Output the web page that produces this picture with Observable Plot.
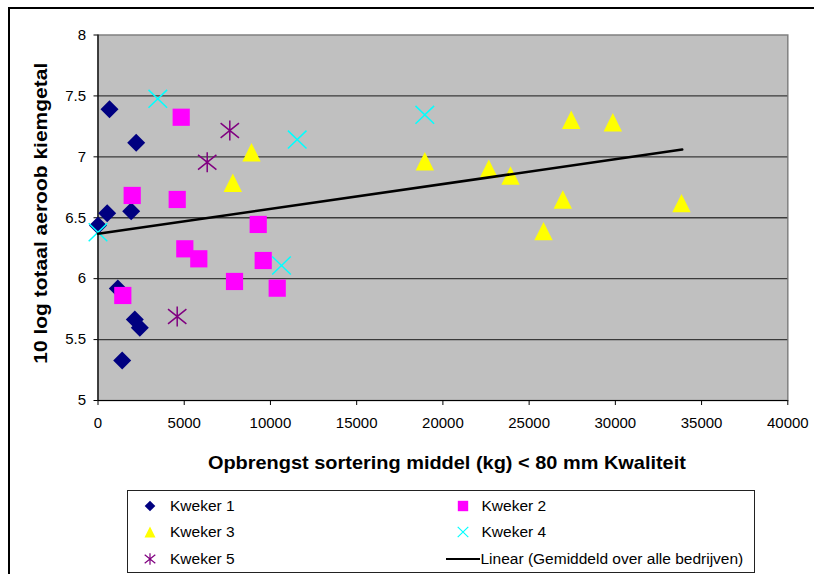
<!DOCTYPE html>
<html>
<head>
<meta charset="utf-8">
<script src="https://cdn.jsdelivr.net/npm/d3@7"></script>
<script src="https://cdn.jsdelivr.net/npm/@observablehq/plot@0.6"></script>
<style>
html,body{margin:0;padding:0;background:#fff;overflow:hidden;width:814px;height:574px}
#wrap{position:relative;width:814px;height:574px;font-family:Arial,"Liberation Sans",sans-serif;overflow:hidden}
#frame{position:absolute;left:8px;top:7px;width:900px;height:700px;border:2px solid #000;box-sizing:border-box}
#chart{position:absolute;left:0;top:0}
#legend{position:absolute;left:127px;top:490px;width:628px;height:83px;border:1.5px solid #222;background:#fff;box-sizing:border-box}
.item{position:absolute;height:20px;line-height:20px;font-size:15.5px;color:#000;white-space:nowrap}
.sym{position:absolute;overflow:visible}
</style>
</head>
<body>
<div id="wrap">
  <div id="frame"></div>
  <div id="chart"></div>
  <div id="legend"></div>
</div>
<script>
// ---- data (x = kg, y = 10log kiemgetal) ----
const kweker1 = [[667,7.39],[2215,7.115],[534,6.537],[1925,6.554],[0,6.436],[1148,5.92],[2134,5.665],[2424,5.597],[1403,5.328]];
const kweker2 = [[4825,7.325],[1983,6.683],[4593,6.65],[9290,6.445],[5034,6.245],[5845,6.163],[9580,6.149],[7916,5.977],[10392,5.922],[1438,5.862]];
const kweker3 = [[8902,7.038],[7817,6.787],[18951,6.964],[22662,6.902],[23921,6.847],[25835,6.39],[26954,6.65],[27441,7.304],[29853,7.284],[33837,6.62]];
const kweker4 = [[3468,7.476],[11552,7.142],[18951,7.345],[10641,6.108],[0,6.381]];
const kweker5 = [[7643,7.216],[6333,6.956],[4593,5.689]];
const trend = [[0,6.368],[33878,7.06]];
const seriesNames = ["Kweker 1","Kweker 2","Kweker 3","Kweker 4","Kweker 5"];
const trendName = "Linear (Gemiddeld over alle bedrijven)";
const xTicks = [0,5000,10000,15000,20000,25000,30000,35000,40000];
const yTicks = [5,5.5,6,6.5,7,7.5,8];
const xLabel = "Opbrengst sortering middel (kg) < 80 mm Kwaliteit";
const yLabel = "10 log totaal aeroob kiemgetal";

// ---- symbols ----
const R = s => Math.sqrt(s / Math.PI);
const symDiamond = {draw(c, s){const r=R(s); c.moveTo(0,-r); c.lineTo(r,0); c.lineTo(0,r); c.lineTo(-r,0); c.closePath();}};
const symSquare = {draw(c, s){const r=R(s); c.moveTo(-r,-r); c.lineTo(r,-r); c.lineTo(r,r); c.lineTo(-r,r); c.closePath();}};
const symTriangle = {draw(c, s){const r=R(s); c.moveTo(0,-r); c.lineTo(r,r); c.lineTo(-r,r); c.closePath();}};
const symTimes = {draw(c, s){const r=R(s); c.moveTo(-r,-r*0.96); c.lineTo(r,r*0.96); c.moveTo(r,-r*0.96); c.lineTo(-r,r*0.96);}};
const symAster = {draw(c, s){const r=R(s); c.moveTo(-r,-r*0.8); c.lineTo(r,r*0.8); c.moveTo(r,-r*0.8); c.lineTo(-r,r*0.8); c.moveTo(0,-r*1.08); c.lineTo(0,r*1.08);}};

const styles = [
  {symbol: symDiamond, r: 9, fill: "#000080", stroke: "none"},
  {symbol: symSquare, r: 8.6, fill: "#FF00FF", stroke: "none"},
  {symbol: symTriangle, r: 9.2, fill: "#FFFF00", stroke: "none"},
  {symbol: symTimes, r: 9.3, fill: "none", stroke: "#00FFFF", strokeWidth: 1.5},
  {symbol: symAster, r: 9.2, fill: "none", stroke: "#800080", strokeWidth: 1.5}
];
const seriesData = [kweker1, kweker2, kweker3, kweker4, kweker5];

const chart = Plot.plot({
  width: 814,
  height: 486,
  marginLeft: 97.5,
  marginRight: 26.7,
  marginTop: 34.5,
  marginBottom: 86,
  style: {background: "transparent", fontFamily: "Arial, 'Liberation Sans', sans-serif", fontSize: "15px", color: "#000", overflow: "visible"},
  x: {domain: [0, 40000], ticks: xTicks, tickFormat: d => String(d)},
  y: {domain: [5, 8], ticks: yTicks, tickFormat: d => String(d)},
  marks: [
    Plot.frame({fill: "#C0C0C0", stroke: "#808080", strokeWidth: 1.5}),
    Plot.ruleY(yTicks.slice(1, -1), {stroke: "#3a3a3a", strokeWidth: 1.3}),
    Plot.ruleX([0], {stroke: "#000", strokeWidth: 1.2}),
    Plot.ruleY([5], {stroke: "#000", strokeWidth: 1.2}),
    Plot.axisY({ticks: yTicks, tickSize: 4, tickPadding: 8, label: null, fontSize: 15, tickFormat: d => String(d), stroke: "#000"}),
    Plot.axisX({ticks: xTicks, tickSize: 5, tickPadding: 12, label: null, fontSize: 15, tickFormat: d => String(d), stroke: "#000"}),
    ...seriesData.map((d, i) => Plot.dot(d, {x: p => p[0], y: p => p[1], ...styles[i]})),
    Plot.line(trend, {x: p => p[0], y: p => p[1], stroke: "#000", strokeWidth: 2.5}),
    Plot.text([yLabel], {frameAnchor: "left", rotate: -90, dx: -56.5, dy: -4.5, fontSize: 18.5, fontWeight: "bold", lineAnchor: "middle", textAnchor: "middle"}),
    Plot.text([xLabel], {frameAnchor: "bottom", dx: 4, dy: 63, fontSize: 18.5, fontWeight: "bold", lineAnchor: "middle", textAnchor: "middle"})
  ]
});
document.getElementById("chart").appendChild(chart);
// fit axis titles to the reference widths
d3.select(chart).selectAll("text").each(function() {
  const t = this.textContent;
  if (t === xLabel) { this.setAttribute("textLength", 478); this.setAttribute("lengthAdjust", "spacingAndGlyphs"); }
  if (t === yLabel) { this.setAttribute("textLength", 301); this.setAttribute("lengthAdjust", "spacingAndGlyphs"); }
});

// ---- legend ----
const legend = document.getElementById("legend");
function symSvg(style, rr) {
  const p = d3.path();
  style.symbol.draw(p, rr * rr * Math.PI);
  const ns = "http://www.w3.org/2000/svg";
  const svg = document.createElementNS(ns, "svg");
  svg.setAttribute("width", 20); svg.setAttribute("height", 20);
  svg.setAttribute("class", "sym");
  const g = document.createElementNS(ns, "path");
  g.setAttribute("d", p.toString());
  g.setAttribute("transform", "translate(10,10)");
  g.setAttribute("fill", style.fill);
  g.setAttribute("stroke", style.stroke);
  if (style.strokeWidth) g.setAttribute("stroke-width", 1.2);
  svg.appendChild(g);
  return svg;
}
const rowsY = [15, 41, 67.5];
const cols = [{sx: 21.5, tx: 42}, {sx: 334.5, tx: 353.5}];
const legendRR = [5.3, 5.2, 5.5, 5.3, 5.3];
seriesNames.forEach((name, i) => {
  const col = cols[i % 2], row = rowsY[Math.floor(i / 2)];
  const s = symSvg(styles[i], legendRR[i]);
  s.style.left = (col.sx - 10) + "px"; s.style.top = (row - 10) + "px";
  legend.appendChild(s);
  const t = document.createElement("div");
  t.className = "item"; t.textContent = name;
  t.style.left = col.tx + "px"; t.style.top = (row - 10) + "px";
  legend.appendChild(t);
});
// trend legend entry
{
  const row = rowsY[2];
  const ln = document.createElement("div");
  ln.style.cssText = `position:absolute;left:318px;width:34px;top:${row - 1}px;height:2.5px;background:#000`;
  legend.appendChild(ln);
  const t = document.createElement("div");
  t.className = "item"; t.textContent = trendName;
  t.style.left = "352.5px"; t.style.top = (row - 10) + "px";
  legend.appendChild(t);
}
</script>
</body>
</html>
